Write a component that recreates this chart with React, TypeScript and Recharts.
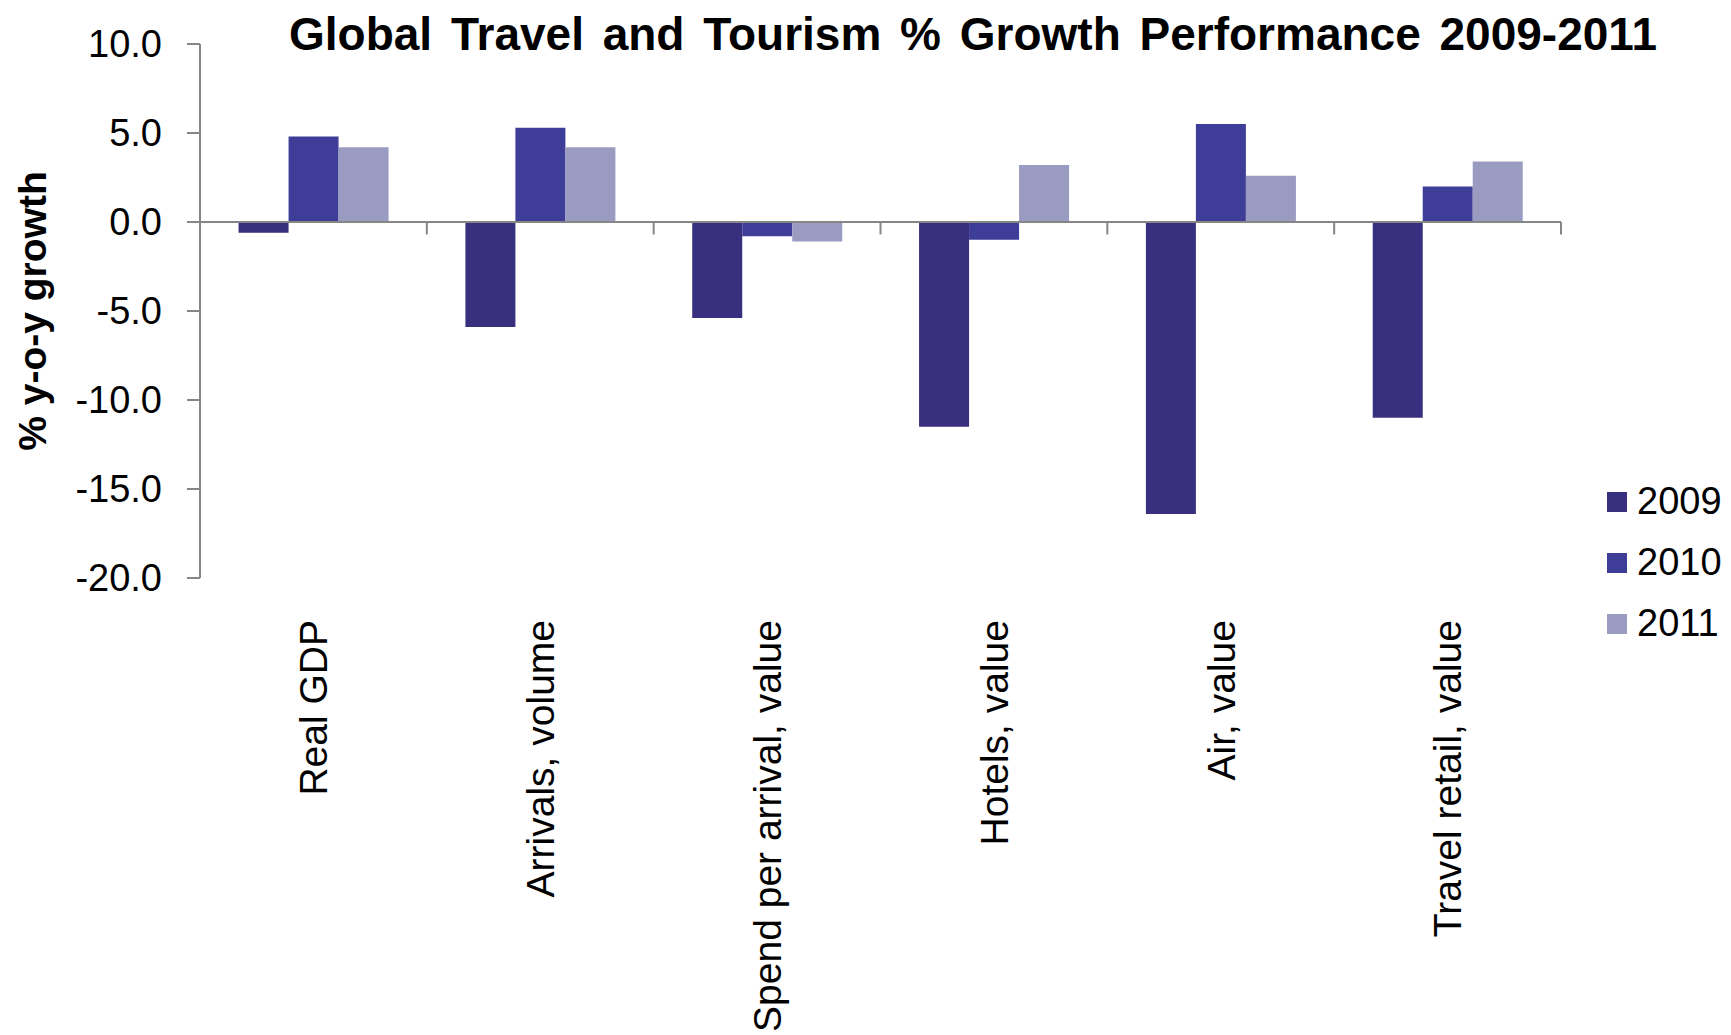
import { BarChart, Bar, XAxis, YAxis, ReferenceLine, Legend } from 'recharts';

// Global travel & tourism growth, % y-o-y
const categories = [
  'Real GDP',
  'Arrivals, volume',
  'Spend per arrival, value',
  'Hotels, value',
  'Air, value',
  'Travel retail, value',
];
const growth2009 = [-0.6, -5.9, -5.4, -11.5, -16.4, -11.0];
const growth2010 = [4.8, 5.3, -0.8, -1.0, 5.5, 2.0];
const growth2011 = [4.2, 4.2, -1.1, 3.2, 2.6, 3.4];
const yTicks = [10, 5, 0, -5, -10, -15, -20];

const FONT = '"Liberation Sans", Arial, sans-serif';
const AXIS_GREY = '#868686';
const COLORS = { y2009: '#382F7E', y2010: '#3E3D98', y2011: '#9A9BC0' };
const TICK_DEPTH = 0.7; // downward tick marks below the zero line, in axis units

const data = categories.map((category, i) => ({
  category,
  y2009: growth2009[i],
  y2010: growth2010[i],
  y2011: growth2011[i],
}));

function CategoryTick({ x, y, payload }: any) {
  return (
    <text
      x={x}
      y={y}
      dy="0.355em"
      transform={`rotate(-90, ${x}, ${y})`}
      textAnchor="end"
      fontSize={39}
      fontFamily={FONT}
      fill="#000"
    >
      {payload.value}
    </text>
  );
}

function LegendList({ payload }: any) {
  return (
    <div style={{ fontFamily: FONT, fontSize: 38, color: '#000' }}>
      {(payload || []).map((item: any) => (
        <div key={item.value} style={{ display: 'flex', alignItems: 'center', height: 61 }}>
          <span style={{ width: 20, height: 20, background: item.color, marginRight: 10, display: 'inline-block' }} />
          <span>{item.value}</span>
        </div>
      ))}
    </div>
  );
}

export default function App() {
  const last = categories[categories.length - 1];
  return (
    <div style={{ position: 'absolute', left: 0, top: 0, width: 1731, height: 1035, background: '#fff' }}>
      <div
        style={{
          position: 'absolute',
          left: 0,
          width: 1946,
          top: 11,
          textAlign: 'center',
          fontFamily: FONT,
          fontWeight: 'bold',
          fontSize: 46,
          lineHeight: '46px',
          wordSpacing: 6,
          color: '#000',
          whiteSpace: 'nowrap',
        }}
      >
        Global Travel and Tourism % Growth Performance 2009-2011
      </div>
      <BarChart
        width={1731}
        height={1035}
        data={data}
        margin={{ top: 44, right: 170, left: 80, bottom: 0 }}
        barCategoryGap="17%"
        barGap={0}
      >
        <XAxis
          dataKey="category"
          axisLine={false}
          tickLine={false}
          tickSize={0}
          tickMargin={42}
          interval={0}
          height={457}
          tick={<CategoryTick />}
        />
        <YAxis
          width={120}
          domain={[-20, 10]}
          ticks={yTicks}
          interval={0}
          tickFormatter={(v: number) => v.toFixed(1)}
          axisLine={{ stroke: AXIS_GREY, strokeWidth: 2 }}
          tickLine={{ stroke: AXIS_GREY, strokeWidth: 2 }}
          tickSize={13}
          tickMargin={25}
          tick={{ fontSize: 38, fontFamily: FONT, fill: '#000' }}
          label={{
            value: '% y-o-y growth',
            angle: -90,
            position: 'left',
            offset: 48,
            style: { textAnchor: 'middle', fontSize: 39, fontWeight: 'bold', fontFamily: FONT, fill: '#000' },
          }}
        />
        <Legend
          layout="horizontal"
          align="center"
          verticalAlign="middle"
          wrapperStyle={{ left: 1607, top: 471, width: 'auto' }}
          content={<LegendList />}
        />
        <Bar dataKey="y2009" name="2009" fill={COLORS.y2009} isAnimationActive={false} />
        <Bar dataKey="y2010" name="2010" fill={COLORS.y2010} isAnimationActive={false} />
        <Bar dataKey="y2011" name="2011" fill={COLORS.y2011} isAnimationActive={false} />
        <ReferenceLine y={0} stroke={AXIS_GREY} strokeWidth={2} />
        {categories.slice(1).map((c) => (
          <ReferenceLine
            key={c}
            position="start"
            segment={[{ x: c, y: 0 }, { x: c, y: -TICK_DEPTH }]}
            stroke={AXIS_GREY}
            strokeWidth={2}
          />
        ))}
        <ReferenceLine
          position="end"
          segment={[{ x: last, y: 0 }, { x: last, y: -TICK_DEPTH }]}
          stroke={AXIS_GREY}
          strokeWidth={2}
        />
      </BarChart>
    </div>
  );
}
